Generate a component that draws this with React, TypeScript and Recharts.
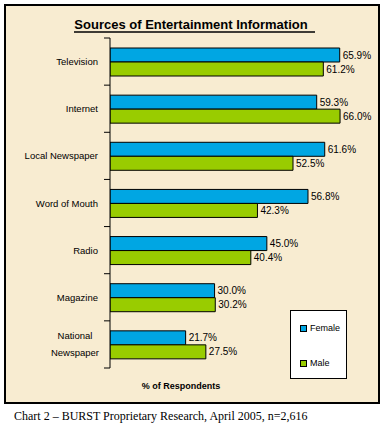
import React from "react";
import { BarChart, Bar, XAxis, YAxis, LabelList, Legend } from "recharts";

const categories = [
  "Television",
  "Internet",
  "Local Newspaper",
  "Word of Mouth",
  "Radio",
  "Magazine",
  "National Newspaper",
];
const female = [65.9, 59.3, 61.6, 56.8, 45.0, 30.0, 21.7];
const male = [61.2, 66.0, 52.5, 42.3, 40.4, 30.2, 27.5];
const seriesNames = ["Female", "Male"];
const xDomain = [0, 70];

const data = categories.map((name, i) => ({ name, female: female[i], male: male[i] }));

const W = 385;
const H = 434;
const M = { top: 38, right: 31, bottom: 66, left: 0 };
const Y_AXIS_W = 110;
const PLOT_H = H - M.top - M.bottom;
const BAND = PLOT_H / categories.length;
const FEMALE_COLOR = "#00a6e3";
const MALE_COLOR = "#99cc00";
const BG = "#f8ecd1";
const FONT = "Arial, 'Liberation Sans', sans-serif";

const fmt = (v: any) => `${Number(v).toFixed(1)}%`;

const CategoryTick = (props: any) => {
  const { y, payload, index } = props;
  const label: string = payload.value;
  const axisX = Y_AXIS_W;
  const lines = label.length > 16 ? label.split(" ") : [label];
  const lineH = 17;
  return (
    <g>
      <line x1={axisX - 6} x2={axisX} y1={y - BAND / 2} y2={y - BAND / 2} stroke="#000" strokeWidth={1} />
      {index === categories.length - 1 && (
        <line x1={axisX - 6} x2={axisX} y1={y + BAND / 2} y2={y + BAND / 2} stroke="#000" strokeWidth={1} />
      )}
      {lines.length === 1 ? (
        <text x={axisX - 12} y={y} dy={3.5} textAnchor="end" fontSize={9.5} fontFamily={FONT} fill="#000">
          {label}
        </text>
      ) : (
        <text x={75} y={y} textAnchor="middle" fontSize={9.5} fontFamily={FONT} fill="#000">
          {lines.map((ln, i) => (
            <tspan key={i} x={75} y={y + 3.5 + (i - (lines.length - 1) / 2) * lineH}>
              {ln}
            </tspan>
          ))}
        </text>
      )}
    </g>
  );
};

const LegendBox = (props: any) => {
  const payload = props.payload || [];
  return (
    <div
      style={{
        position: "absolute",
        left: 0,
        top: 0,
        width: 55,
        height: 67,
        background: "#fff",
        border: "1px solid #000",
        fontFamily: FONT,
        fontSize: 9,
        boxSizing: "content-box",
      }}
    >
      {payload.map((p: any, i: number) => (
        <div
          key={i}
          style={{
            position: "absolute",
            left: 9,
            top: i === 0 ? 12 : 47,
            display: "flex",
            alignItems: "center",
            whiteSpace: "nowrap",
            lineHeight: "10px",
          }}
        >
          <span
            style={{
              display: "inline-block",
              width: 5,
              height: 5,
              background: p.color,
              border: "1px solid #000",
              marginRight: 3,
            }}
          />
          <span>{p.value}</span>
        </div>
      ))}
    </div>
  );
};

export default function App() {
  return (
    <div style={{ position: "absolute", left: 0, top: 0, width: W, height: H, background: "#fff" }}>
      <svg width={W} height={H} style={{ position: "absolute", left: 0, top: 0 }}>
        <rect x={5} y={5} width={374} height={398} fill={BG} stroke="#000" strokeWidth={2} />
        <text x={191} y={29} textAnchor="middle" fontSize={13} fontWeight="bold" fontFamily={FONT} fill="#000">
          Sources of Entertainment Information
        </text>
        <line x1={74} x2={315} y1={32} y2={32} stroke="#000" strokeWidth={1.5} />
        <text x={181} y={389} textAnchor="middle" fontSize={9} fontWeight="bold" fontFamily={FONT} fill="#000">
          % of Respondents
        </text>
        <text x={14} y={420} fontSize={12} fontFamily="'Liberation Serif', 'Times New Roman', serif" fill="#000">
          Chart 2 – BURST Proprietary Research, April 2005, n=2,616
        </text>
      </svg>
      <div style={{ position: "absolute", left: 0, top: 0 }}>
        <BarChart
          width={W}
          height={H}
          data={data}
          layout="vertical"
          margin={M}
          barCategoryGap={10}
          barGap={0}
        >
          <XAxis type="number" domain={xDomain} hide allowDataOverflow />
          <YAxis
            type="category"
            dataKey="name"
            width={Y_AXIS_W}
            axisLine={{ stroke: "#000", strokeWidth: 1 }}
            tickLine={false}
            tick={<CategoryTick />}
            interval={0}
          />
          <Legend
            content={<LegendBox />}
            wrapperStyle={{ position: "absolute", left: 290, top: 310, width: 0, height: 0, overflow: "visible" }}
          />
          <Bar dataKey="female" name={seriesNames[0]} fill={FEMALE_COLOR} stroke="#000" strokeWidth={1} isAnimationActive={false}>
            <LabelList dataKey="female" position="right" offset={3} formatter={fmt} fontSize={10} fontFamily={FONT} fill="#000" />
          </Bar>
          <Bar dataKey="male" name={seriesNames[1]} fill={MALE_COLOR} stroke="#000" strokeWidth={1} isAnimationActive={false}>
            <LabelList dataKey="male" position="right" offset={3} formatter={fmt} fontSize={10} fontFamily={FONT} fill="#000" />
          </Bar>
        </BarChart>
      </div>
    </div>
  );
}
